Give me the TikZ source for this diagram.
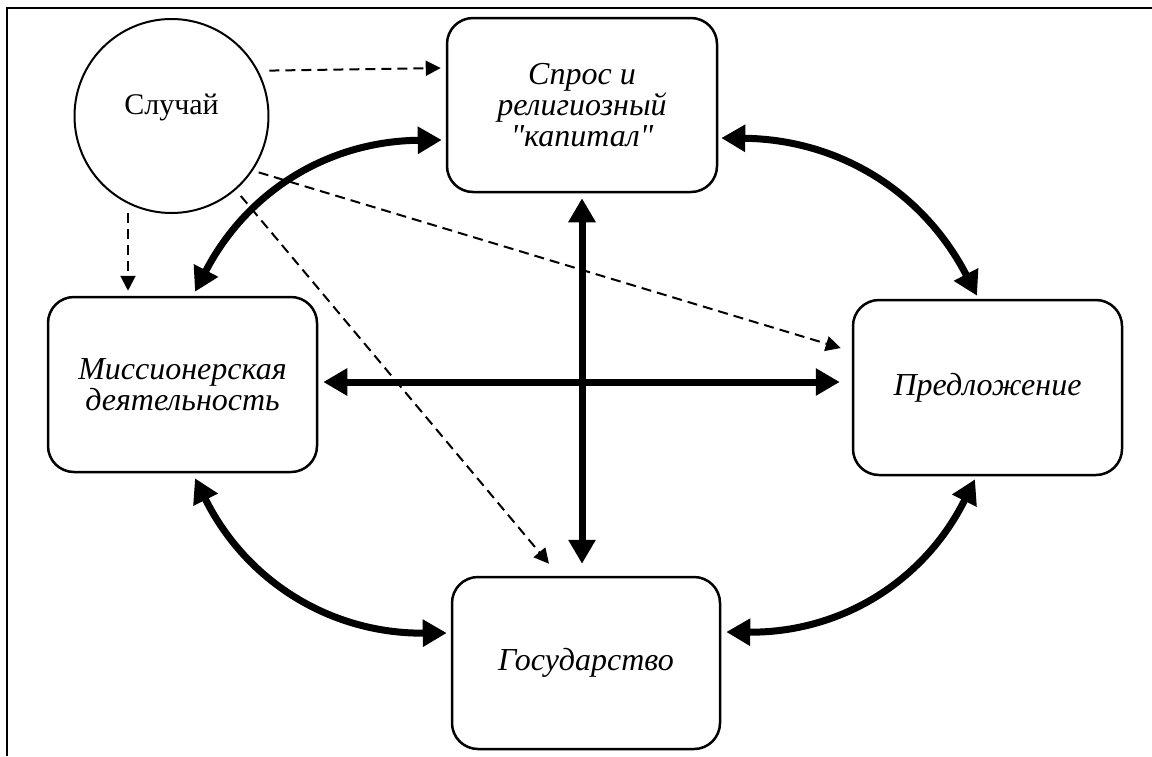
\documentclass[tikz,border=0pt]{standalone}
\usepackage{fontspec}
\setmainfont{Liberation Serif}[Ligatures=TeXOff]
\usetikzlibrary{arrows.meta}
\begin{document}
\begin{tikzpicture}[x=1pt,y=-1pt,
  box/.style={draw,line width=2.5pt,rounded corners=26pt,inner sep=0pt,align=center,
    font=\fontsize{32}{31}\selectfont\itshape},
  bigarr/.style={line width=7pt,{Triangle[length=24pt,width=26pt]}-{Triangle[length=24pt,width=26pt]}},
  dasharr/.style={line width=2pt,dash pattern=on 10pt off 6pt,-{Triangle[length=15pt,width=15pt]}},
  frameline/.style={line width=1.2pt}
]
\useasboundingbox (0,0) rectangle (1152,756);
\draw[frameline] (1152,8) -- (7,8) -- (7,756);

\node[box,minimum width=270pt,minimum height=174pt] (spros) at (582,105) {Спрос и\\религиозный\\"капитал"};
\node[box,minimum width=269pt,minimum height=175pt] (miss) at (182.5,384.5) {Миссионерская\\деятельность};
\node[box,minimum width=269pt,minimum height=175pt] (pred) at (987.5,387.5) {Предложение};
\node[box,minimum width=268pt,minimum height=172pt] (gos) at (586,663) {Государство};
\node[circle,draw,line width=2pt,minimum size=194pt,inner sep=0pt,text height=21pt,text depth=25pt,
  font=\fontsize{30}{31}\selectfont] (sluch) at (171.5,116) {Случай};

% thick curved arrows
\draw[bigarr] ([xshift=-4pt,yshift=-35pt]spros.west) to[bend right=31] ([xshift=12.5pt,yshift=4pt]miss.north);
\draw[bigarr] ([xshift=3pt,yshift=-33pt]spros.east) to[bend left=31] ([xshift=-10.5pt,yshift=3pt]pred.north);
\draw[bigarr] ([xshift=12.5pt,yshift=-5pt]miss.south) to[bend right=32] ([xshift=-4pt,yshift=30pt]gos.west);
\draw[bigarr] ([xshift=-12.5pt,yshift=-3pt]pred.south) to[bend left=32] ([xshift=5pt,yshift=31pt]gos.east);
% straight thick arrows
\draw[bigarr] ([yshift=-5pt]spros.south) -- ([xshift=-4pt,yshift=12pt]gos.north);
\draw[bigarr] ([xshift=5pt,yshift=2.5pt]miss.east) -- ([xshift=-12pt,yshift=5.5pt]pred.west);
% dashed arrows
\draw[dasharr] ([xshift=9pt,yshift=4pt]sluch.25) -- ([xshift=-5pt,yshift=37pt]spros.west);
\draw[dasharr] ([xshift=-43.5pt,yshift=1pt]sluch.south) -- ([xshift=-54.5pt,yshift=5pt]miss.north);
\draw[dasharr] ([xshift=5pt,yshift=-3pt]sluch.-33) -- ([xshift=-11pt,yshift=39.5pt]pred.west);
\draw[dasharr] ([xshift=5pt,yshift=-6pt]sluch.-49) -- ([xshift=-37pt,yshift=12pt]gos.north);
\end{tikzpicture}
\end{document}
